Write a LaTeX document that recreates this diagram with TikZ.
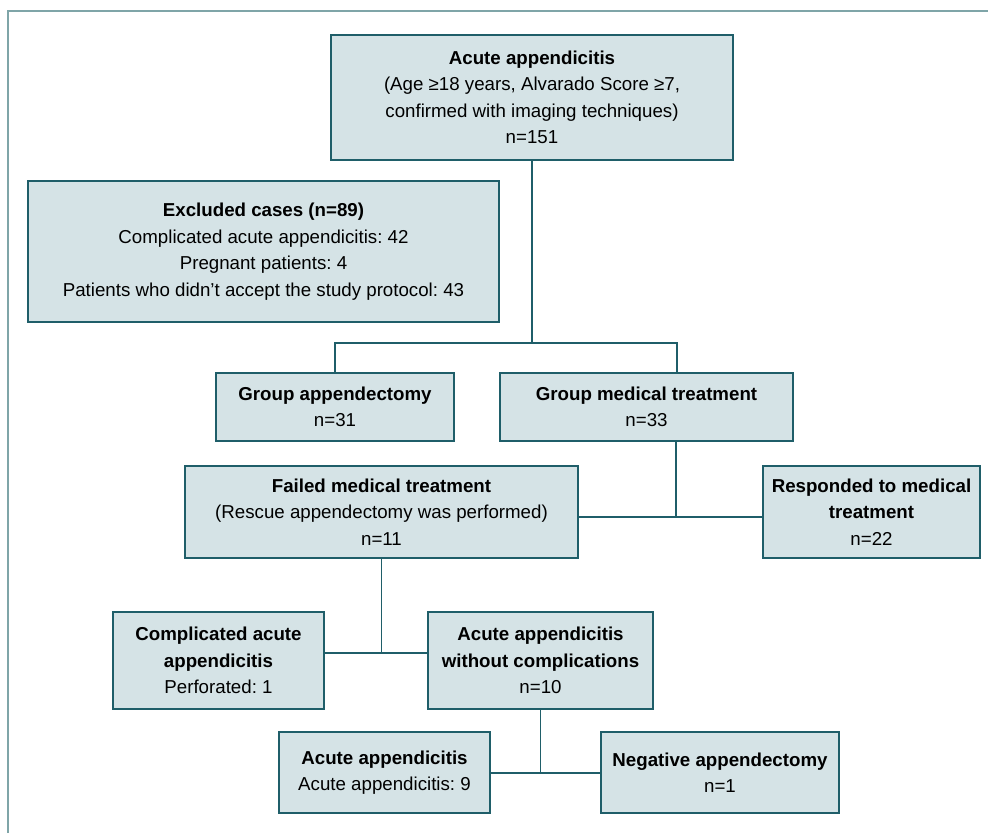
\documentclass[tikz,border=0pt]{standalone}
\usepackage{fontspec}
\setmainfont{Liberation Sans}
\usepackage{tikz}
\usetikzlibrary{positioning}
\definecolor{boxfill}{HTML}{D5E3E6}
\definecolor{boxline}{HTML}{1F5E69}
\definecolor{frameline}{HTML}{7FA5A8}
\frenchspacing
\tikzset{
  fc_box/.style = {draw=boxline, fill=boxfill, line width=1.3pt, align=center,
    inner sep=0pt, font=\fontsize{18.7}{26.5}\selectfont},% flow chart box
  fc_line/.style = {draw=boxline, line width=1.3pt},% connector
  fc_frame/.style = {draw=frameline, line width=2pt}% outer frame
}

\begin{document}
\begin{tikzpicture}[x=1pt,y=-1pt]
\useasboundingbox (0,0) rectangle (988,833);
\draw [fc_frame] (8,833) -- (8,11) -- (988,11);
% boxes
\node [fc_box, minimum width=402, minimum height=125] (top) at (532,97.5)
  {\textbf{Acute appendicitis}\\(Age ≥18 years, Alvarado Score ≥7,\\confirmed with imaging techniques)\\n=151};
\node [fc_box, minimum width=471, minimum height=141] (excl) at (263.5,251.5)
  {\textbf{Excluded cases (n=89)}\\Complicated acute appendicitis: 42\\Pregnant patients: 4\\Patients who didn’t accept the study protocol: 43};
\node [fc_box, minimum width=238, minimum height=68] (grpapp) at (335,407)
  {\textbf{Group appendectomy}\\n=31};
\node [fc_box, minimum width=293, minimum height=68] (grpmed) at (646.5,407)
  {\textbf{Group medical treatment}\\n=33};
\node [fc_box, minimum width=393, minimum height=92] (failed) at (381.5,512)
  {\textbf{Failed medical treatment}\\(Rescue appendectomy was performed)\\n=11};
\node [fc_box, minimum width=217, minimum height=92] (resp) at (871.5,512)
  {\textbf{Responded to medical}\\\textbf{treatment}\\n=22};
\node [fc_box, minimum width=211, minimum height=97] (compl) at (218.5,660.5)
  {\textbf{Complicated acute}\\\textbf{appendicitis}\\Perforated: 1};
\node [fc_box, minimum width=225, minimum height=97] (acwo) at (540.5,660.5)
  {\textbf{Acute appendicitis}\\\textbf{without complications}\\n=10};
\node [fc_box, minimum width=211, minimum height=81] (acnine) at (384.5,772.5)
  {\textbf{Acute appendicitis}\\Acute appendicitis: 9};
\node [fc_box, minimum width=238, minimum height=81] (neg) at (720,772.5)
  {\textbf{Negative appendectomy}\\n=1};
% connectors
\coordinate (split_top) at (532,343);
\coordinate (medtop) at (677,373);
\coordinate (split_med) at (676,517);
\coordinate (split_fail) at (381.5,653);
\coordinate (split_acwo) at (540.5,773);
\draw [fc_line] (top.south) -- (split_top);
\draw [fc_line] (grpapp.north) |- (split_top) -| (medtop);
\draw [fc_line] (grpmed.south -| split_med) -- (split_med);
\draw [fc_line] (failed.east |- split_med) -- (resp.west |- split_med);
\draw [fc_line] (failed.south) -- (split_fail);
\draw [fc_line] (compl.east |- split_fail) -- (acwo.west |- split_fail);
\draw [fc_line] (acwo.south) -- (split_acwo);
\draw [fc_line] (acnine.east |- split_acwo) -- (neg.west |- split_acwo);
\end{tikzpicture}
\end{document}
